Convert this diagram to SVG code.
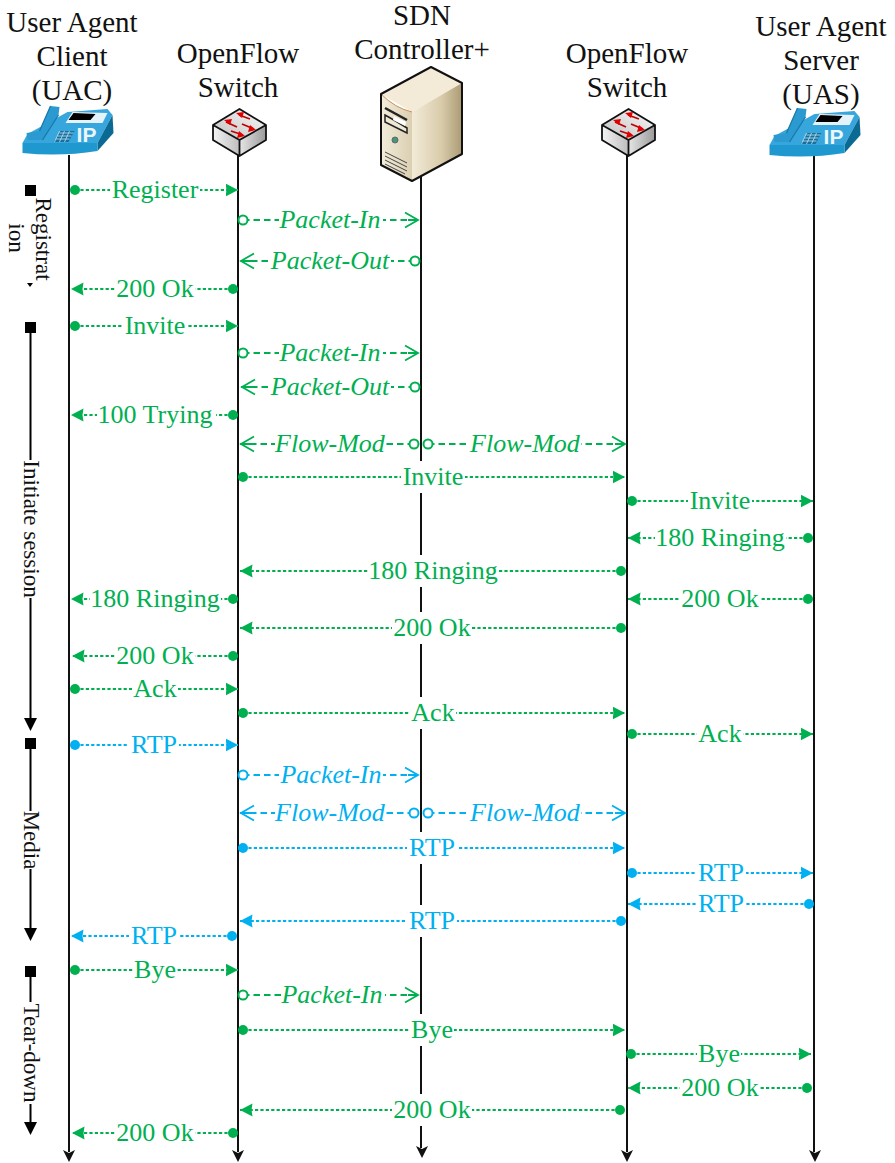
<svg xmlns="http://www.w3.org/2000/svg" width="895" height="1163" viewBox="0 0 895 1163">
<style>
text{font-family:"Liberation Serif","Times New Roman",serif}
.h{font-size:29px;fill:#111;text-anchor:middle}
.s{font-size:23px;fill:#111;text-anchor:middle}
.l{font-size:26px;text-anchor:middle}
.i{font-style:italic}
.g{fill:#00b050}.b{fill:#00b0f0}
.bg{fill:#fff}
.side{stroke:#000;stroke-width:2;fill:none;marker-end:url(#sideArrow)}
.m{fill:none;stroke-width:1.800}
.dg,.fg{stroke:#00b050}.db,.fb{stroke:#00b0f0}
.dg,.db{stroke-dasharray:3.200 2.200}
.fg,.fb{stroke-dasharray:6.500 4}
.dg{marker-start:url(#dotG);marker-end:url(#arrG)}
.db{marker-start:url(#dotB);marker-end:url(#arrB)}
.fg{marker-start:url(#circG);marker-end:url(#openG)}
.fb{marker-start:url(#circB);marker-end:url(#openB)}
.ip{font-family:"Liberation Sans",Arial,sans-serif;font-weight:700;font-size:21px;fill:#eaf6fc;text-anchor:middle}
</style>
<defs>
<marker id="sideArrow" markerUnits="userSpaceOnUse" markerWidth="14" markerHeight="14" refX="1" refY="7" orient="auto" viewBox="0 0 14 14"><path d="M1,0.500L14,7L1,13.500Z" fill="#000"/></marker>
<marker id="arrG" markerUnits="userSpaceOnUse" markerWidth="13" markerHeight="14" refX="12.500" refY="7" orient="auto" viewBox="0 0 13 14"><path d="M0,0.500L12.500,7L0,13.500L1,7Z" fill="#00b050"/></marker>
<marker id="arrB" markerUnits="userSpaceOnUse" markerWidth="13" markerHeight="14" refX="12.500" refY="7" orient="auto" viewBox="0 0 13 14"><path d="M0,0.500L12.500,7L0,13.500L1,7Z" fill="#00b0f0"/></marker>
<marker id="dotG" markerUnits="userSpaceOnUse" markerWidth="12" markerHeight="12" refX="6" refY="6" viewBox="0 0 12 12"><circle cx="6" cy="6" r="5" fill="#00b050"/></marker>
<marker id="dotB" markerUnits="userSpaceOnUse" markerWidth="12" markerHeight="12" refX="6" refY="6" viewBox="0 0 12 12"><circle cx="6" cy="6" r="5" fill="#00b0f0"/></marker>
<marker id="circG" markerUnits="userSpaceOnUse" markerWidth="12" markerHeight="12" refX="6" refY="6" viewBox="0 0 12 12"><circle cx="6" cy="6" r="4.500" fill="#fff" stroke="#00b050" stroke-width="2"/></marker>
<marker id="circB" markerUnits="userSpaceOnUse" markerWidth="12" markerHeight="12" refX="6" refY="6" viewBox="0 0 12 12"><circle cx="6" cy="6" r="4.500" fill="#fff" stroke="#00b0f0" stroke-width="2"/></marker>
<marker id="openG" markerUnits="userSpaceOnUse" markerWidth="16" markerHeight="18" refX="15" refY="9" orient="auto" viewBox="0 0 16 18"><path d="M1,1.500L14,9L1,16.500M14,9H4" fill="none" stroke="#00b050" stroke-width="1.800"/></marker>
<marker id="openB" markerUnits="userSpaceOnUse" markerWidth="16" markerHeight="18" refX="15" refY="9" orient="auto" viewBox="0 0 16 18"><path d="M1,1.500L14,9L1,16.500M14,9H4" fill="none" stroke="#00b0f0" stroke-width="1.800"/></marker>
<linearGradient id="swL" x1="0" y1="0" x2="1" y2="0"><stop offset="0" stop-color="#f4f4f4"/><stop offset="1" stop-color="#bdbdbd"/></linearGradient>
<linearGradient id="swR" x1="0" y1="0" x2="1" y2="0"><stop offset="0" stop-color="#e6e6e6"/><stop offset="1" stop-color="#9a9a9a"/></linearGradient>
<linearGradient id="swT" x1="0" y1="1" x2="1" y2="0"><stop offset="0" stop-color="#bfbfbf"/><stop offset="1" stop-color="#fafafa"/></linearGradient>
<linearGradient id="srvR" x1="0" y1="0" x2="1" y2="0"><stop offset="0" stop-color="#f3ebd8"/><stop offset="0.6" stop-color="#d8cbaa"/><stop offset="1" stop-color="#ab9a74"/></linearGradient>
<linearGradient id="srvL" x1="0" y1="0" x2="1" y2="0"><stop offset="0" stop-color="#f2ecdb"/><stop offset="1" stop-color="#dbcfb1"/></linearGradient>
<g id="phone">
<path d="M0,38L75,38L90,10L85,4L45,7L5,29Z" fill="#37a6dc"/>
<path d="M75,38L90,10L91,28L75,46Z" fill="#0a6a94"/>
<path d="M0,38H75L75,46Q38,52 0,48Z" fill="#1f98cf"/>
<path d="M4,28L17,26L28,1L37,2L36,10L20,35L5,35Z" fill="#2a9ad0"/>
<path d="M17,26L28,1M36,10L20,35" stroke="#1678a8" stroke-width="1.200" fill="none"/>
<path d="M43,18H80L85,8L50,7Z" fill="#e4f2f9"/>
<path d="M46,15H68L73,9L51,8Z" fill="#000"/>
<path d="M31,37L38,26H52L46,37Z" fill="#176f9e"/>
<path d="M33,34H47M35,31H49M37,28H51M37,26L32,37M42,26L37,37M47,26L42,37" stroke="#bfe3f3" stroke-width="0.800" fill="none"/>
<text class="ip" x="64" y="37">IP</text>
</g>
<g id="switch">
<path d="M1,16L27.500,31L27.500,47L1,31Z" fill="url(#swL)"/>
<path d="M54,16L27.500,31L27.500,47L54,31Z" fill="url(#swR)"/>
<path d="M27.500,0L54,16L27.500,31L1,16Z" fill="url(#swT)"/>
<path d="M27.500,0L54,16L54,31L27.500,47L1,31L1,16ZM1,16L27.500,31L54,16M27.500,31V47" fill="none" stroke="#111" stroke-width="1.800" stroke-linejoin="round"/>
<path d="M27,6L38,10M14,13L25,18M30,15L42,20M19,22L31,26" stroke="#c00000" stroke-width="1.800" fill="none"/>
<path d="M24,4L32,3L30,9ZM12,11L20,10L18,16ZM44,21L36,23L38,16ZM33,27L25,29L27,22Z" fill="#e00000"/>
</g>
</defs>

<g id="lifelines">
<path d="M69,155V1152" stroke="#111" stroke-width="2"/><path d="M63,1150L69,1153L75,1150L69,1162Z" fill="#111"/>
<path d="M238,155V1152" stroke="#111" stroke-width="2"/><path d="M232,1150L238,1153L244,1150L238,1162Z" fill="#111"/>
<path d="M421,176V1148" stroke="#111" stroke-width="2"/><path d="M416,1146L422,1149L428,1146L422,1158Z" fill="#111"/>
<path d="M627,155V1152" stroke="#111" stroke-width="2"/><path d="M621,1150L627,1153L633,1150L627,1162Z" fill="#111"/>
<path d="M814,155V1152" stroke="#111" stroke-width="2"/><path d="M809,1150L815,1153L821,1150L815,1162Z" fill="#111"/>
</g>

<g id="node-uac">
<text class="h"><tspan x="72" y="32">User Agent</tspan><tspan x="72" y="66">Client</tspan><tspan x="72" y="100">(UAC)</tspan></text>
<use href="#phone" x="22.500" y="105"/>
</g>
<g id="node-switch-1">
<text class="h"><tspan x="238" y="63">OpenFlow</tspan><tspan x="238" y="97">Switch</tspan></text>
<use href="#switch" x="212" y="109"/>
</g>
<g id="node-controller">
<text class="h"><tspan x="422" y="25">SDN</tspan><tspan x="422" y="59">Controller+</tspan></text>
<path d="M431,67L462,83L412,112L381,94Z" fill="#f3ead8"/>
<path d="M381,94Q395,108 412,112V181L381,165Z" fill="url(#srvL)"/>
<path d="M412,112L462,83V154L412,181Z" fill="url(#srvR)"/>
<path d="M381,94Q395,108 412,112" fill="none" stroke="#c98f55" stroke-width="1"/>
<path d="M431,67L462,83V154L412,181L381,165V94Z" fill="none" stroke="#111" stroke-width="2" stroke-linejoin="round"/>
<path d="M385,108L407,120" stroke="#222" stroke-width="2.500" fill="none"/>
<path d="M385,115V122L407,133V128Q396,121 385,115Z" fill="#efe8d4" stroke="#222" stroke-width="1.500"/>
<path d="M394,116L406,122L405,126L393,120Z" fill="#fff"/>
<circle cx="395" cy="140" r="3" fill="#3f9a7c" stroke="#666" stroke-width="1"/>
<path d="M385,152L407,163M385,156L407,167M385,160L407,171M385,164L405,174" stroke="#444" stroke-width="1" fill="none"/>
</g>
<g id="node-switch-2">
<text class="h"><tspan x="627" y="63">OpenFlow</tspan><tspan x="627" y="97">Switch</tspan></text>
<use href="#switch" x="601" y="109"/>
</g>
<g id="node-uas">
<text class="h"><tspan x="821" y="36">User Agent</tspan><tspan x="821" y="70">Server</tspan><tspan x="821" y="104">(UAS)</tspan></text>
<use href="#phone" x="769.500" y="107"/>
</g>

<g id="phases">
<g id="phase-registration">
<rect x="25" y="185" width="11" height="11" fill="#000"/>
<path d="M27,283H33L30,287Z" fill="#000"/>
<text class="s" transform="translate(36,239) rotate(90)">Registrat</text>
<text class="s" transform="translate(9,238) rotate(90)">ion</text>
</g>
<g id="phase-initiate">
<rect x="25" y="322" width="11" height="11" fill="#000"/>
<path class="side" d="M30.500,333V718"/>
<rect x="18" y="460" width="25" height="138" class="bg"/>
<text class="s" transform="translate(24,529) rotate(90)">Initiate session</text>
</g>
<g id="phase-media">
<rect x="25" y="738" width="11" height="11" fill="#000"/>
<path class="side" d="M30.500,749V928"/>
<rect x="18" y="811" width="25" height="58" class="bg"/>
<text class="s" transform="translate(24,840) rotate(90)">Media</text>
</g>
<g id="phase-teardown">
<rect x="25" y="966" width="11" height="11" fill="#000"/>
<path class="side" d="M30.500,977V1122"/>
<rect x="18" y="1002" width="25" height="102" class="bg"/>
<text class="s" transform="translate(24,1053) rotate(90)">Tear-down</text>
</g>
</g>

<g id="connectors">
<path class="m dg" d="M75,190H238"/><rect class="bg" x="110" y="175" width="90" height="30"/><text class="l g" x="155" y="198">Register</text>
<path class="m fg" d="M243,220H419"/><rect class="bg" x="279" y="205" width="104" height="30"/><text class="l g i" x="330" y="228">Packet-In</text>
<path class="m fg" d="M415,261H240"/><rect class="bg" x="270" y="246" width="121" height="30"/><text class="l g i" x="330" y="269">Packet-Out</text>
<path class="m dg" d="M233,289H71"/><rect class="bg" x="115" y="274" width="80" height="30"/><text class="l g" x="155" y="297">200 Ok</text>
<path class="m dg" d="M75,326H238"/><rect class="bg" x="123" y="311" width="64" height="30"/><text class="l g" x="155" y="334">Invite</text>
<path class="m fg" d="M243,353H419"/><rect class="bg" x="279" y="338" width="104" height="30"/><text class="l g i" x="330" y="361">Packet-In</text>
<path class="m fg" d="M415,387H241"/><rect class="bg" x="270" y="372" width="121" height="30"/><text class="l g i" x="330" y="395">Packet-Out</text>
<path class="m dg" d="M233,415H71"/><rect class="bg" x="97" y="400" width="119" height="30"/><text class="l g" x="155" y="423">100 Trying</text>
<path class="m fg" d="M414,444H240"/><rect class="bg" x="275" y="429" width="111" height="30"/><text class="l g i" x="330" y="452">Flow-Mod</text>
<path class="m fg" d="M428,444H626"/><rect class="bg" x="470" y="429" width="111" height="30"/><text class="l g i" x="525" y="452">Flow-Mod</text>
<path class="m dg" d="M243,477H625"/><rect class="bg" x="401" y="461" width="64" height="32"/><text class="l g" x="433" y="485">Invite</text>
<path class="m dg" d="M632,501H813"/><rect class="bg" x="688" y="486" width="64" height="30"/><text class="l g" x="720" y="509">Invite</text>
<path class="m dg" d="M808,538H628"/><rect class="bg" x="655" y="523" width="131" height="30"/><text class="l g" x="720" y="546">180 Ringing</text>
<path class="m dg" d="M621,571H240"/><rect class="bg" x="368" y="555" width="131" height="32"/><text class="l g" x="433" y="579">180 Ringing</text>
<path class="m dg" d="M233,599H71"/><rect class="bg" x="90" y="584" width="131" height="30"/><text class="l g" x="155" y="607">180 Ringing</text>
<path class="m dg" d="M808,599H628"/><rect class="bg" x="680" y="584" width="80" height="30"/><text class="l g" x="720" y="607">200 Ok</text>
<path class="m dg" d="M621,628H240"/><rect class="bg" x="392" y="612" width="80" height="32"/><text class="l g" x="432" y="636">200 Ok</text>
<path class="m dg" d="M233,656H72"/><rect class="bg" x="115" y="641" width="80" height="30"/><text class="l g" x="155" y="664">200 Ok</text>
<path class="m dg" d="M75,689H238"/><rect class="bg" x="132" y="674" width="46" height="30"/><text class="l g" x="155" y="697">Ack</text>
<path class="m dg" d="M243,713H625"/><rect class="bg" x="410" y="697" width="46" height="32"/><text class="l g" x="433" y="721">Ack</text>
<path class="m dg" d="M632,734H813"/><rect class="bg" x="697" y="719" width="46" height="30"/><text class="l g" x="720" y="742">Ack</text>
<path class="m db" d="M75,745H238"/><rect class="bg" x="129" y="730" width="50" height="30"/><text class="l b" x="154" y="753">RTP</text>
<path class="m fb" d="M243,775H419"/><rect class="bg" x="279" y="760" width="104" height="30"/><text class="l b i" x="331" y="783">Packet-In</text>
<path class="m fb" d="M414,813H240"/><rect class="bg" x="275" y="798" width="111" height="30"/><text class="l b i" x="330" y="821">Flow-Mod</text>
<path class="m fb" d="M428,813H626"/><rect class="bg" x="470" y="798" width="111" height="30"/><text class="l b i" x="525" y="821">Flow-Mod</text>
<path class="m db" d="M243,848H625"/><rect class="bg" x="407" y="832" width="50" height="32"/><text class="l b" x="432" y="856">RTP</text>
<path class="m db" d="M632,873H813"/><rect class="bg" x="696" y="858" width="50" height="30"/><text class="l b" x="721" y="881">RTP</text>
<path class="m db" d="M809,904H628"/><rect class="bg" x="696" y="889" width="50" height="30"/><text class="l b" x="721" y="912">RTP</text>
<path class="m db" d="M621,921H240"/><rect class="bg" x="407" y="905" width="50" height="32"/><text class="l b" x="432" y="929">RTP</text>
<path class="m db" d="M232,936H71"/><rect class="bg" x="129" y="921" width="50" height="30"/><text class="l b" x="154" y="944">RTP</text>
<path class="m dg" d="M75,970H238"/><rect class="bg" x="133" y="955" width="44" height="30"/><text class="l g" x="155" y="978">Bye</text>
<path class="m fg" d="M243,995H419"/><rect class="bg" x="281" y="980" width="104" height="30"/><text class="l g i" x="332" y="1003">Packet-In</text>
<path class="m dg" d="M243,1030H625"/><rect class="bg" x="410" y="1014" width="44" height="32"/><text class="l g" x="432" y="1038">Bye</text>
<path class="m dg" d="M631,1054H811"/><rect class="bg" x="697" y="1039" width="44" height="30"/><text class="l g" x="719" y="1062">Bye</text>
<path class="m dg" d="M807,1088H628"/><rect class="bg" x="680" y="1073" width="80" height="30"/><text class="l g" x="720" y="1096">200 Ok</text>
<path class="m dg" d="M620,1110H240"/><rect class="bg" x="392" y="1094" width="80" height="32"/><text class="l g" x="432" y="1118">200 Ok</text>
<path class="m dg" d="M233,1133H72"/><rect class="bg" x="115" y="1118" width="80" height="30"/><text class="l g" x="155" y="1141">200 Ok</text>
</g>
</svg>
